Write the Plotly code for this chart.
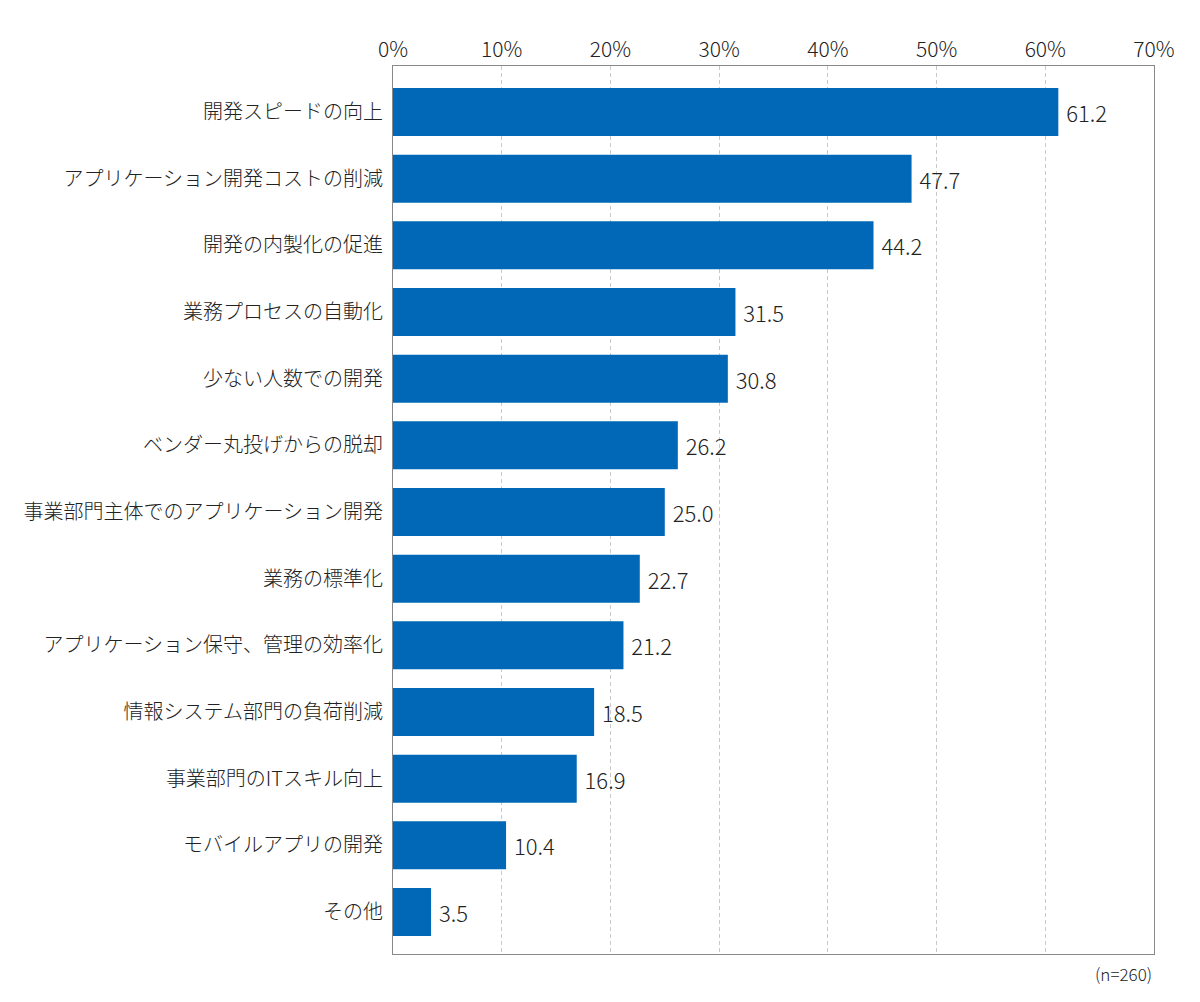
import plotly.graph_objects as go

categories = [
    "開発スピードの向上",
    "アプリケーション開発コストの削減",
    "開発の内製化の促進",
    "業務プロセスの自動化",
    "少ない人数での開発",
    "ベンダー丸投げからの脱却",
    "事業部門主体でのアプリケーション開発",
    "業務の標準化",
    "アプリケーション保守、管理の効率化",
    "情報システム部門の負荷削減",
    "事業部門のITスキル向上",
    "モバイルアプリの開発",
    "その他",
]
values = [61.2, 47.7, 44.2, 31.5, 30.8, 26.2, 25.0, 22.7, 21.2, 18.5, 16.9, 10.4, 3.5]
tick_vals = [0, 10, 20, 30, 40, 50, 60, 70]
tick_text = ["0%", "10%", "20%", "30%", "40%", "50%", "60%", "70%"]
note = "(n=260)"

FONT = "Noto Sans CJK JP, Noto Sans, sans-serif"

fig = go.Figure(go.Bar(
    x=values,
    y=categories,
    orientation="h",
    marker=dict(color="#0068b7", line=dict(width=0)),
    text=[f" {v:.1f}" for v in values],
    textposition="outside",
    textfont=dict(size=22, color="#222", family=FONT, weight=300),
    cliponaxis=False,
))

fig.update_layout(
    width=1200, height=1002,
    margin=dict(l=385, r=54, t=58, b=56),
    paper_bgcolor="white", plot_bgcolor="white",
    bargap=0.28,
    showlegend=False,
    font=dict(family=FONT, color="#222", weight=300),
    xaxis=dict(
        range=[0, 70], side="top",
        tickvals=tick_vals, ticktext=tick_text,
        tickfont=dict(size=21, color="#222", weight=300),
        showgrid=True, gridcolor="#c8c8c8", griddash="4px,3px", gridwidth=1,
        showline=True, linecolor="#888", linewidth=1, mirror=True,
        ticks="", zeroline=False,
    ),
    yaxis=dict(
        type="category",
        categoryorder="array", categoryarray=categories,
        range=[12.63, -0.69],
        tickfont=dict(size=20, color="#222", weight=300),
        showline=True, linecolor="#888", linewidth=1, mirror=True,
        ticks="", ticklabelstandoff=5, showgrid=False,
    ),
    annotations=[dict(
        text=note, x=1, y=0, xref="paper", yref="paper",
        xanchor="right", yanchor="top", yshift=-5, showarrow=False,
        font=dict(size=17, color="#222", weight=300),
    )],
)

fig.write_html("out.html")
